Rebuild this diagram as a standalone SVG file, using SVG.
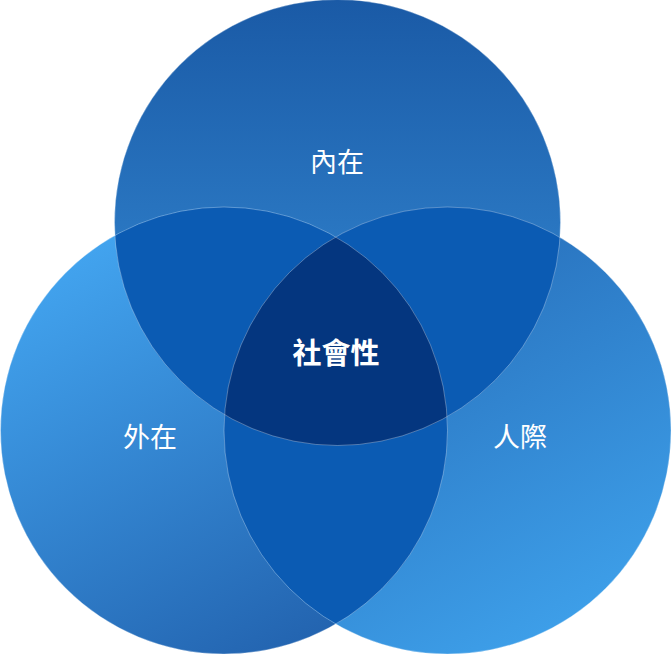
<svg xmlns="http://www.w3.org/2000/svg" width="672" height="654" viewBox="0 0 672 654">
<style>
.lbl{font-family:"Noto Sans CJK TC","Noto Sans CJK SC",sans-serif;fill:#fff;font-size:27px;text-anchor:middle}
.ctr{font-weight:bold;font-size:29px}
.edge{fill:none;stroke:#fff;stroke-opacity:0.3;stroke-width:1}
</style>
<defs>
<linearGradient id="gTop" x1="0" y1="0" x2="0" y2="1"><stop offset="0" stop-color="#1a5aa6"/><stop offset="1" stop-color="#3890da"/></linearGradient>
<linearGradient id="gLeft" x1="0.2" y1="0.1" x2="0.7" y2="1"><stop offset="0" stop-color="#42a3ee"/><stop offset="1" stop-color="#2262ae"/></linearGradient>
<linearGradient id="gRight" x1="0.3" y1="0" x2="0.8" y2="0.9"><stop offset="0" stop-color="#2468b4"/><stop offset="1" stop-color="#3d9ee8"/></linearGradient>
<clipPath id="cTop"><circle cx="337.5" cy="222.5" r="223"/></clipPath>
<clipPath id="cLeft"><circle cx="224" cy="430.5" r="223.5"/></clipPath>
<clipPath id="cRight"><circle cx="447.5" cy="430.5" r="223.5"/></clipPath>
</defs>
<g id="circle-top"><circle cx="337.5" cy="222.5" r="223" fill="url(#gTop)"/></g>
<g id="circle-left"><circle cx="224" cy="430.5" r="223.5" fill="url(#gLeft)"/></g>
<g id="circle-right"><circle cx="447.5" cy="430.5" r="223.5" fill="url(#gRight)"/></g>
<g id="overlaps">
<g clip-path="url(#cTop)"><circle cx="224" cy="430.5" r="223.5" fill="#0b5bb3"/><circle cx="447.5" cy="430.5" r="223.5" fill="#0b5bb3"/></g>
<g clip-path="url(#cLeft)"><circle cx="447.5" cy="430.5" r="223.5" fill="#0b5bb3"/></g>
<g clip-path="url(#cTop)"><g clip-path="url(#cLeft)"><circle cx="447.5" cy="430.5" r="223.5" fill="#04367f"/></g></g>
</g>
<g id="connectors">
<circle class="edge" cx="337.5" cy="222.5" r="223"/>
<circle class="edge" cx="224" cy="430.5" r="223.5"/>
<circle class="edge" cx="447.5" cy="430.5" r="223.5"/>
</g>
<g id="label-top"><text class="lbl" x="337" y="172">內在</text></g>
<g id="label-left"><text class="lbl" x="150" y="447">外在</text></g>
<g id="label-right"><text class="lbl" x="520" y="447">人際</text></g>
<g id="label-center"><text class="lbl ctr" x="336" y="364">社會性</text></g>
</svg>
